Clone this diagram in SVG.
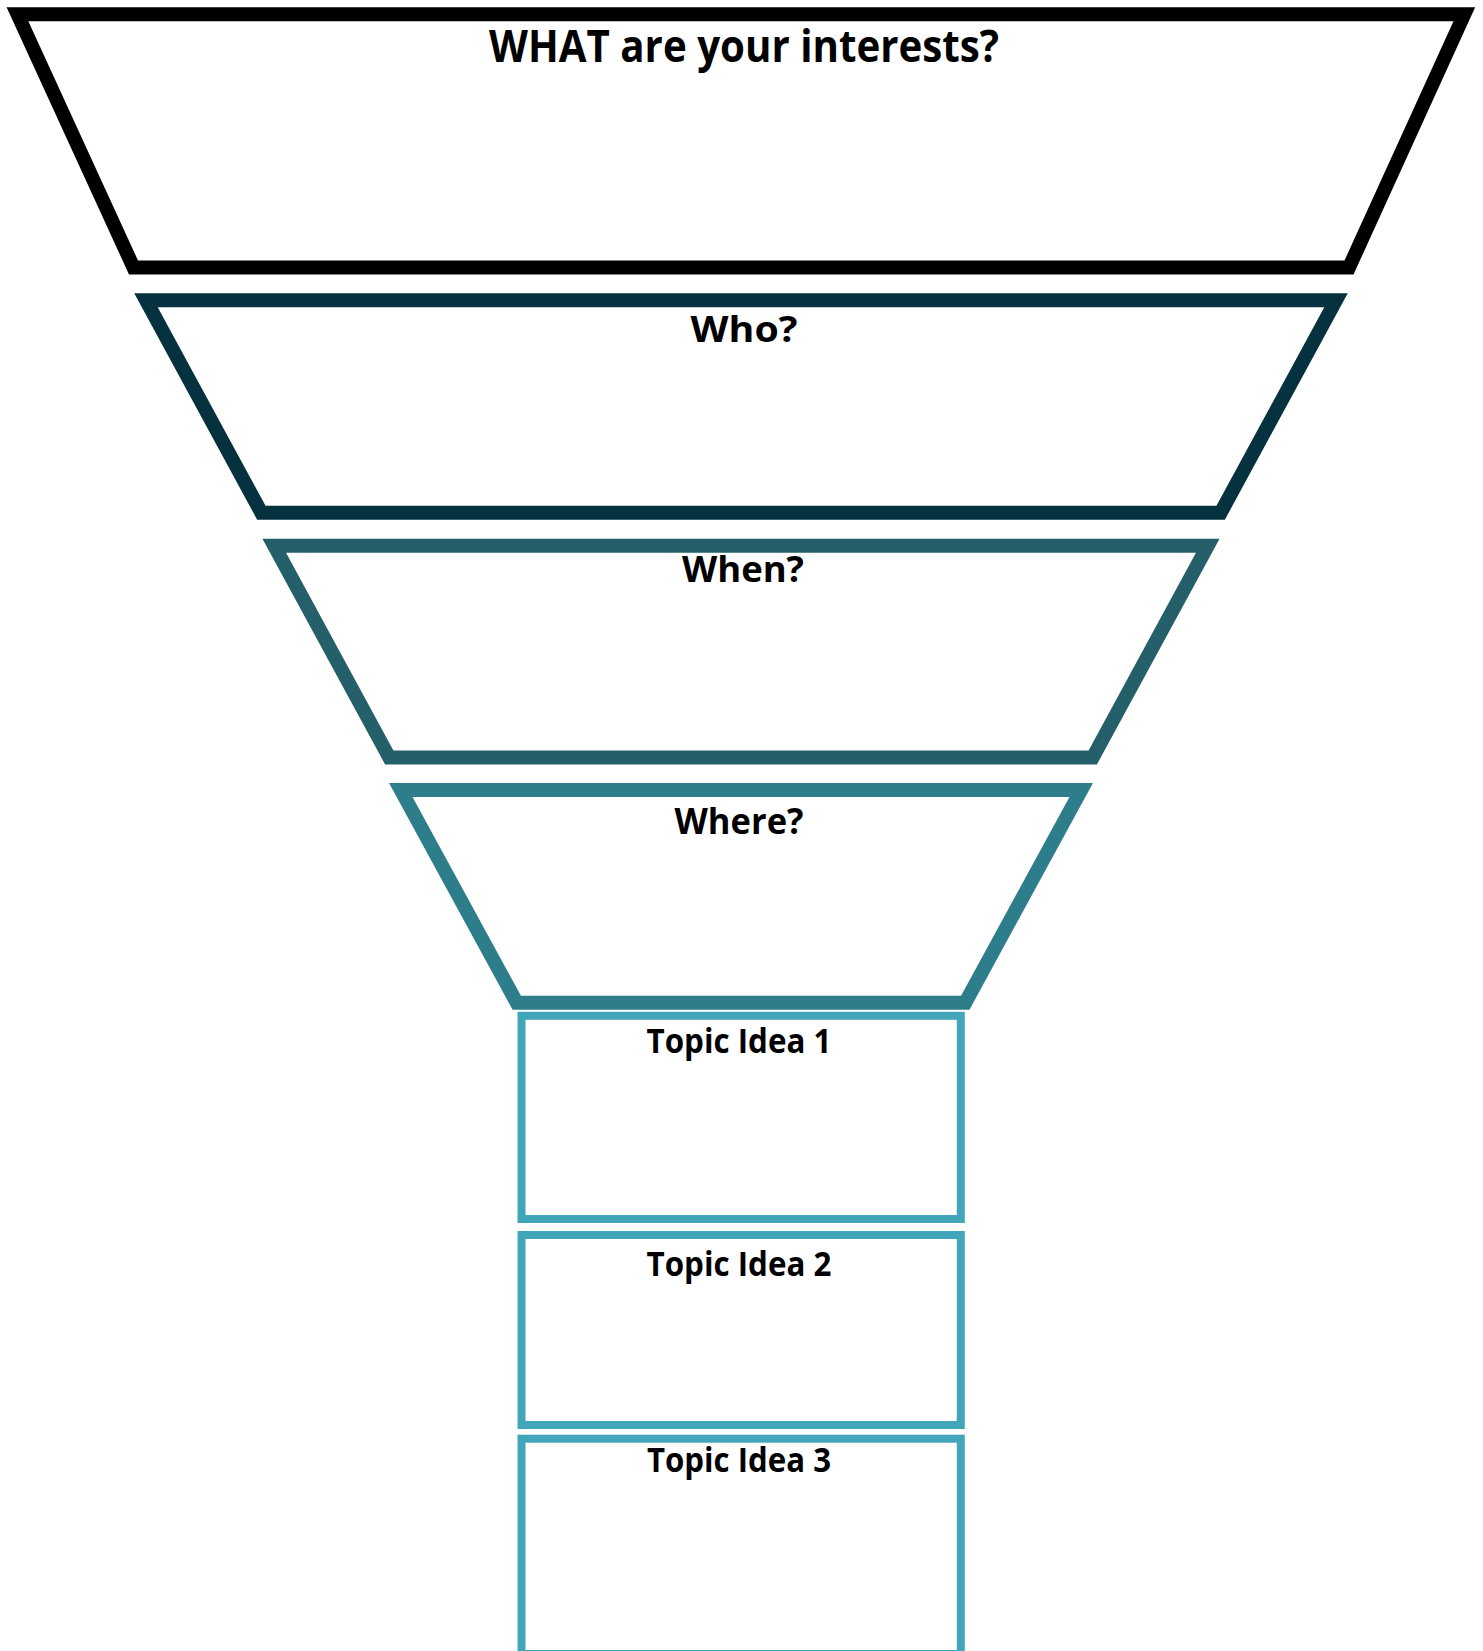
<svg xmlns="http://www.w3.org/2000/svg" width="1483" height="1651" viewBox="0 0 1483 1651">
  <style>
    .shape { fill: #ffffff; stroke-linejoin: miter; stroke-miterlimit: 10; }
    .trap { stroke-width: 14; }
    .box { stroke: #41A6B9; stroke-width: 8; }
    .lbl { font-family: "Open Sans", "Liberation Sans", sans-serif; font-weight: 700; fill: #000000; text-anchor: middle; }
    .big { font-size: 44px; }
    .mid { font-size: 36.5px; }
    .small { font-size: 33.5px; }
  </style>
  <rect x="0" y="0" width="1483" height="1651" fill="#ffffff"/>
  <g id="connectors"/>
  <g id="what">
    <polygon class="shape trap" stroke="#000000" points="17.5,14.3 1464.3,14.3 1349,267.5 133.5,267.5"/>
    <text class="lbl big" x="744" y="62" textLength="510" lengthAdjust="spacingAndGlyphs">WHAT are your interests?</text>
  </g>
  <g id="who">
    <polygon class="shape trap" stroke="#06313F" points="146,300.3 1336,300.3 1220.7,512.7 261.3,512.7"/>
    <text class="lbl mid" x="744" y="342" textLength="107" lengthAdjust="spacingAndGlyphs">Who?</text>
  </g>
  <g id="when">
    <polygon class="shape trap" stroke="#255F6A" points="274.2,545.7 1207.8,545.7 1092.7,757.5 389.3,757.5"/>
    <text class="lbl mid" x="743" y="582" textLength="122" lengthAdjust="spacingAndGlyphs">When?</text>
  </g>
  <g id="where">
    <polygon class="shape trap" stroke="#2E7D8A" points="400.8,790 1081.2,790 965.3,1002.7 516.7,1002.7"/>
    <text class="lbl mid" x="739" y="834" textLength="129" lengthAdjust="spacingAndGlyphs">Where?</text>
  </g>
  <g id="topic1">
    <rect class="shape box" x="521.5" y="1015.8" width="439.3" height="203.2"/>
    <text class="lbl small" x="739" y="1053" textLength="185" lengthAdjust="spacingAndGlyphs">Topic Idea 1</text>
  </g>
  <g id="topic2">
    <rect class="shape box" x="521.5" y="1235" width="439.3" height="190"/>
    <text class="lbl small" x="739" y="1276" textLength="185" lengthAdjust="spacingAndGlyphs">Topic Idea 2</text>
  </g>
  <g id="topic3">
    <rect class="shape box" x="521.5" y="1438.7" width="439.3" height="215.3"/>
    <text class="lbl small" x="739" y="1472" textLength="184" lengthAdjust="spacingAndGlyphs">Topic Idea 3</text>
  </g>
</svg>
